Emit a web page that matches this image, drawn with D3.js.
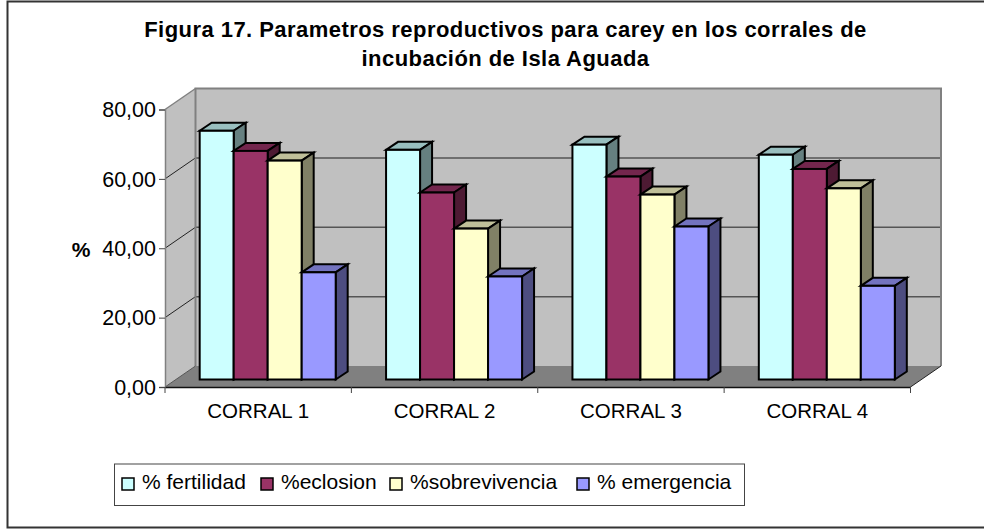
<!DOCTYPE html>
<html>
<head>
<meta charset="utf-8">
<script src="https://cdn.jsdelivr.net/npm/d3@7"></script>
<style>
    html, body { margin: 0; padding: 0; background: #fff; }
    svg { display: block; }
    text { font-family: "Liberation Sans", Arial, sans-serif; fill: #000; }
</style>
</head>
<body>
<div id="chart"></div>
<script>
const corrales = ['CORRAL 1', 'CORRAL 2', 'CORRAL 3', 'CORRAL 4'];
const seriesNames = ['% fertilidad', '%eclosion', '%sobrevivencia', '% emergencia'];
const fertilidad = [71.7, 66.2, 67.7, 64.8];
const eclosion = [65.9, 53.9, 58.5, 60.7];
const sobrevivencia = [63.1, 43.5, 53.3, 55.1];
const emergencia = [30.9, 29.7, 44.1, 27.0];
const yTicks = [0, 20, 40, 60, 80];
const titleLines = ['Figura 17. Parametros reproductivos para carey en los corrales de', 'incubación de Isla Aguada'];

const seriesValues = [fertilidad, eclosion, sobrevivencia, emergencia];
const faceColors = ['#ccffff', '#993366', '#ffffcc', '#9999ff'];
const topColors = ['#99bfbf', '#73264d', '#bfbf99', '#7373bf'];
const sideColors = ['#668080', '#4d1a33', '#808066', '#4d4d80'];

const width = 984, height = 529;
const plot = { left: 165, right: 910.5, top: 109.5, bottom: 387 };
// depth of the 3d box, and where the bars sit inside it
const wall = { dx: 30.5, dy: -21 };
const barShift = { dx: 9.5, dy: -7.5 };
const barDepth = { dx: 12, dy: -8 };

const svg = d3.select('#chart').append('svg')
    .attr('width', width)
    .attr('height', height);

// outer frame, the right side falls off the picture
svg.append('path')
    .attr('d', 'M984,1.5H7.5V527.5H984')
    .attr('fill', 'none')
    .attr('stroke', '#333')
    .attr('stroke-width', 2);

svg.selectAll('.title').data(titleLines).join('text')
    .attr('class', 'title')
    .attr('x', 505.5)
    .attr('y', (d, i) => 37 + i * 29)
    .attr('text-anchor', 'middle')
    .attr('font-size', '22px')
    .attr('font-weight', 'bold')
    .attr('letter-spacing', '0.45px')
    .text(d => d);

const xScale = d3.scaleBand().domain(corrales).range([plot.left, plot.right]);
const yScale = d3.scaleLinear().domain([0, 80]).range([plot.bottom, plot.top]);
const barWidth = 34;
const groupPad = (xScale.bandwidth() - barWidth * seriesNames.length) / 2;

// walls and floor
const chart = svg.append('g');
const pts = arr => arr.map(p => p.join(',')).join(' ');
chart.append('polygon')
    .attr('points', pts([[plot.left, plot.top], [plot.left + wall.dx, plot.top + wall.dy],
        [plot.right + wall.dx, plot.top + wall.dy], [plot.right + wall.dx, plot.bottom + wall.dy],
        [plot.left + wall.dx, plot.bottom + wall.dy], [plot.left, plot.bottom]]))
    .attr('fill', '#c0c0c0');
chart.append('polygon')
    .attr('points', pts([[plot.left, plot.bottom], [plot.left + wall.dx, plot.bottom + wall.dy],
        [plot.right + wall.dx, plot.bottom + wall.dy], [plot.right, plot.bottom]]))
    .attr('fill', '#808080');

// gridlines, back wall then the diagonal on the side wall
const grid = yTicks.filter(d => d > 0 && d < 80);
chart.selectAll('.grid-back').data(grid).join('line')
    .attr('class', 'grid-back')
    .attr('x1', plot.left + wall.dx)
    .attr('x2', plot.right + wall.dx)
    .attr('y1', d => yScale(d) + wall.dy)
    .attr('y2', d => yScale(d) + wall.dy)
    .attr('stroke', '#555')
    .attr('stroke-width', 1.5);
chart.selectAll('.grid-side').data(grid.concat([80])).join('line')
    .attr('class', 'grid-side')
    .attr('x1', plot.left)
    .attr('x2', plot.left + wall.dx)
    .attr('y1', d => yScale(d))
    .attr('y2', d => yScale(d) + wall.dy)
    .attr('stroke', d => d === 80 ? '#808080' : '#222')
    .attr('stroke-width', d => d === 80 ? 1.5 : 1);

// wall outline
chart.append('path')
    .attr('d', `M${plot.left + wall.dx},${plot.bottom + wall.dy}V${plot.top + wall.dy}H${plot.right + wall.dx}V${plot.bottom + wall.dy}`)
    .attr('fill', 'none')
    .attr('stroke', '#808080')
    .attr('stroke-width', 2);
chart.append('line')
    .attr('x1', plot.right).attr('y1', plot.bottom)
    .attr('x2', plot.right + wall.dx).attr('y2', plot.bottom + wall.dy)
    .attr('stroke', '#222');
chart.append('line')
    .attr('x1', plot.left).attr('y1', plot.bottom)
    .attr('x2', plot.left + wall.dx).attr('y2', plot.bottom + wall.dy)
    .attr('stroke', '#555');

// bars, drawn left to right so that each one covers the side of the last
const barData = [];
corrales.forEach((c, ci) => {
    seriesNames.forEach((s, si) => {
        barData.push({ corral: c, si: si, value: seriesValues[si][ci] });
    });
});
const bars = chart.selectAll('.bar').data(barData).join('g')
    .attr('class', 'bar')
    .attr('stroke', '#000')
    .attr('stroke-width', 2)
    .attr('stroke-linejoin', 'miter');
const barX = d => xScale(d.corral) + groupPad + d.si * barWidth + barShift.dx;
const barY = d => yScale(d.value) + barShift.dy;
const barBase = yScale(0) + barShift.dy;

bars.append('polygon')
    .attr('fill', d => topColors[d.si])
    .attr('points', d => {
        const x = barX(d), y = barY(d);
        return pts([[x, y], [x + barDepth.dx, y + barDepth.dy],
            [x + barWidth + barDepth.dx, y + barDepth.dy], [x + barWidth, y]]);
    });
bars.append('polygon')
    .attr('fill', d => sideColors[d.si])
    .attr('points', d => {
        const x = barX(d) + barWidth, y = barY(d);
        return pts([[x, y], [x + barDepth.dx, y + barDepth.dy],
            [x + barDepth.dx, barBase + barDepth.dy], [x, barBase]]);
    });
bars.append('rect')
    .attr('fill', d => faceColors[d.si])
    .attr('x', barX)
    .attr('y', barY)
    .attr('width', barWidth)
    .attr('height', d => barBase - barY(d));

// axes
const yAxis = d3.axisLeft(yScale)
    .tickValues(yTicks)
    .tickSize(6)
    .tickPadding(3)
    .tickFormat(d => d3.format('.2f')(d).replace('.', ','));
const yAxisG = svg.append('g')
    .attr('transform', `translate(${plot.left},0)`)
    .call(yAxis);
yAxisG.selectAll('text').attr('font-size', '21.5px').attr('dy', '0.34em').style('font-family', '"Liberation Sans", Arial, sans-serif');
yAxisG.selectAll('line').attr('stroke', '#444');
yAxisG.select('.domain').attr('stroke', '#808080').attr('stroke-width', 1.5);

const xAxis = d3.axisBottom(xScale).tickSize(0).tickPadding(16).tickSizeOuter(0);
const xAxisG = svg.append('g')
    .attr('transform', `translate(0,${plot.bottom})`)
    .call(xAxis);
xAxisG.selectAll('text').attr('font-size', '20.5px').style('font-family', '"Liberation Sans", Arial, sans-serif');
xAxisG.select('.domain').attr('stroke', '#111').attr('stroke-width', 1.5);
xAxisG.selectAll('.sep').data(d3.range(corrales.length + 1)).join('line')
    .attr('class', 'sep')
    .attr('x1', i => plot.left + i * xScale.step())
    .attr('x2', i => plot.left + i * xScale.step())
    .attr('y1', 0)
    .attr('y2', 6)
    .attr('stroke', '#444');

svg.append('text')
    .attr('x', 81)
    .attr('y', 257)
    .attr('text-anchor', 'middle')
    .attr('font-size', '21px')
    .attr('font-weight', 'bold')
    .text('%');

// legend
const legendPos = [122, 261, 390, 577];
const legend = svg.append('g');
legend.append('rect')
    .attr('x', 114.5).attr('y', 464)
    .attr('width', 630).attr('height', 41.5)
    .attr('fill', '#fff')
    .attr('stroke', '#444')
    .attr('stroke-width', 1);
const items = legend.selectAll('.item').data(seriesNames).join('g')
    .attr('class', 'item')
    .attr('transform', (d, i) => `translate(${legendPos[i]},478)`);
items.append('rect')
    .attr('width', 12).attr('height', 12)
    .attr('fill', (d, i) => faceColors[i])
    .attr('stroke', '#000')
    .attr('stroke-width', 1.5);
items.append('text')
    .attr('x', 20)
    .attr('y', 11)
    .attr('font-size', '21px')
    .text(d => d);
</script>
</body>
</html>
